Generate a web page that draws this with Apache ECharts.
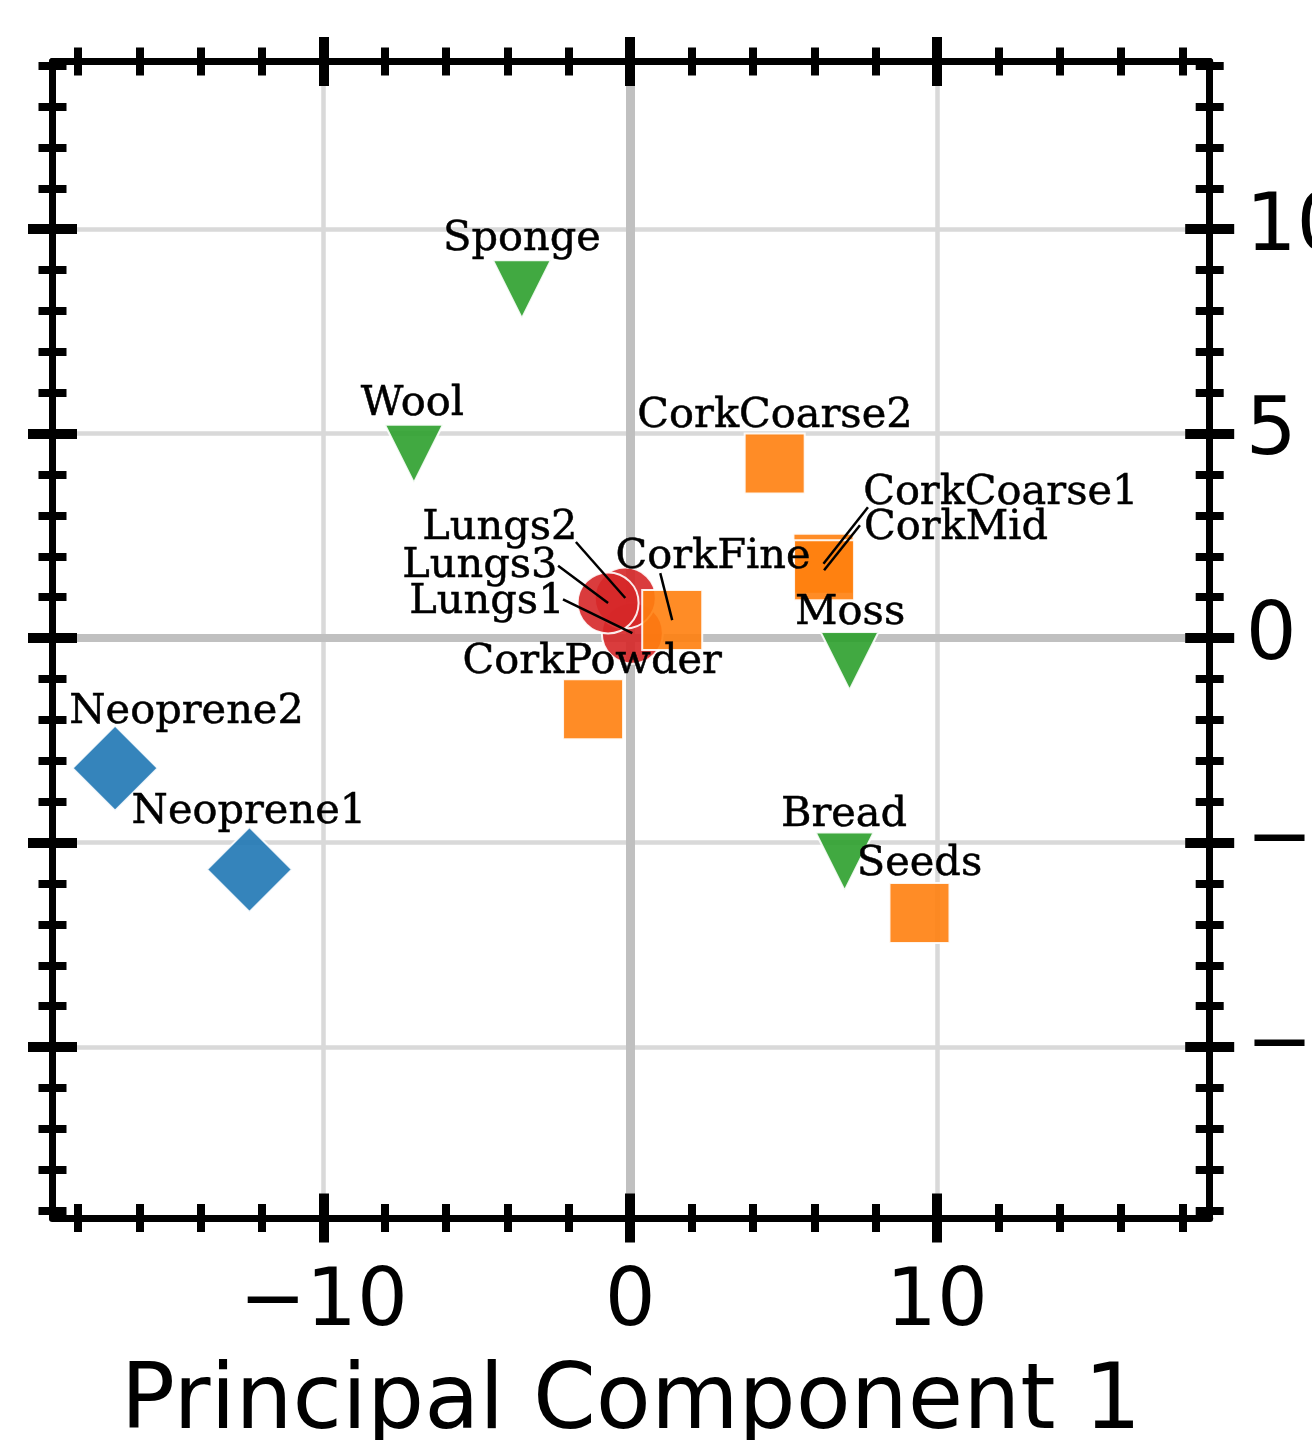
<!DOCTYPE html>
<html>
<head>
<meta charset="utf-8">
<script src="https://cdn.jsdelivr.net/npm/echarts@6/dist/echarts.min.js"></script>
<style>
  html, body { margin: 0; padding: 0; background: #ffffff; }
  #chart { width: 1312px; height: 1440px; }
</style>
</head>
<body>
<div id="chart"></div>
<script>
// PCA scores of sound-absorbing materials (PC1 vs PC2)
const names = ['Neoprene2', 'Neoprene1',
               'Lungs1', 'Lungs2', 'Lungs3',
               'CorkCoarse2', 'CorkCoarse1', 'CorkMid', 'CorkFine', 'CorkPowder', 'Seeds',
               'Sponge', 'Wool', 'Moss', 'Bread'];
const groups = ['synthetic', 'synthetic',
                'lungs', 'lungs', 'lungs',
                'cork', 'cork', 'cork', 'cork', 'cork', 'cork',
                'natural', 'natural', 'natural', 'natural'];
const pc1 = [-16.79, -12.41,
             0.07, -0.16, -0.72,
             4.71, 6.30, 6.32, 1.37, -1.21, 9.43,
             -3.53, -7.05, 7.15, 6.99];
const pc2 = [-3.18, -5.66,
             0.12, 0.98, 0.86,
             4.27, 1.82, 1.66, 0.44, -1.74, -6.72,
             8.53, 4.51, -0.56, -5.46];

// where each name tag sits (text centre), in PC units
const labelX = [-14.46, -12.43,
                -4.67, -4.25, -4.90,
                4.72, 12.08, 10.62, 2.70, -1.24, 9.43,
                -3.53, -7.10, 7.17, 6.97];
const labelY = [-1.70, -4.14,
                1.01, 2.82, 1.87,
                5.54, 3.67, 2.80, 2.10, -0.46, -5.40,
                9.88, 5.83, 0.73, -4.21];

// connector lines: start next to the tag, end on the point
const leaderNames = ['Lungs2', 'Lungs3', 'Lungs1', 'CorkFine', 'CorkCoarse1', 'CorkMid'];
const leaderX = [-1.77, -2.35, -2.19, 0.98, 7.75, 7.49];
const leaderY = [2.35, 1.77, 0.95, 1.59, 3.20, 2.76];

// axes
const X_MIN = -18.83, X_MAX = 18.89;
const Y_MIN = -14.18, Y_MAX = 14.10;
const majorX = [-10, 0, 10];
const minorX = [-18, -16, -14, -12, -8, -6, -4, -2, 2, 4, 6, 8, 12, 14, 16, 18];
const majorY = [-10, -5, 0, 5, 10];
const minorY = [-14, -13, -12, -11, -9, -8, -7, -6, -4, -3, -2, -1,
                1, 2, 3, 4, 6, 7, 8, 9, 11, 12, 13, 14];
const gridX = [-10, 10];
const gridY = [-10, -5, 5, 10];

const groupStyle = {
  synthetic: { color: '#1f77b4', symbol: 'diamond', size: 85, rotate: 0 },
  lungs:     { color: '#d62728', symbol: 'circle', size: 61, rotate: 0 },
  cork:      { color: '#ff7f0e', symbol: 'rect', size: 60, rotate: 0 },
  natural:   { color: '#2ca02c', symbol: 'triangle', size: 58, rotate: 180 }
};
const groupOrder = ['synthetic', 'lungs', 'cork', 'natural'];

const fmt = v => (v < 0 ? '\u2212' + Math.abs(v) : String(v));
const SPINE = 7, MAJ_W = 10, MAJ_L = 49, MIN_W = 8, MIN_L = 28;

function axisBase(dim, position, extra) {
  const base = {
    type: 'value',
    position: position,
    min: dim === 'x' ? X_MIN : Y_MIN,
    max: dim === 'x' ? X_MAX : Y_MAX,
    offset: 0,
    z: 10,
    splitLine: { show: false },
    axisLine: { show: false, onZero: false },
    axisTick: { show: false },
    axisLabel: { show: false }
  };
  return Object.assign(base, extra);
}
function spineAxis(dim, position, extra) {
  return axisBase(dim, position, Object.assign({
    axisLine: { show: true, onZero: false, lineStyle: { color: '#000', width: SPINE } }
  }, extra || {}));
}
function tickAxis(dim, position, values, len, width) {
  return axisBase(dim, position, {
    offset: -len / 2,
    axisTick: { show: true, inside: false, length: len, customValues: values,
                lineStyle: { color: '#000', width: width } }
  });
}

const xAxes = [
  spineAxis('x', 'bottom', {
    name: 'Principal Component 1',
    nameLocation: 'middle',
    nameGap: 142,
    nameTextStyle: { fontFamily: 'DejaVu Sans', fontSize: 90, color: '#000' },
    axisLabel: { show: true, customValues: majorX, formatter: fmt, margin: 46,
                 fontFamily: 'DejaVu Sans', fontSize: 80, color: '#000' }
  }),
  tickAxis('x', 'bottom', majorX, MAJ_L, MAJ_W),
  tickAxis('x', 'bottom', minorX, MIN_L, MIN_W),
  spineAxis('x', 'top'),
  tickAxis('x', 'top', majorX, MAJ_L, MAJ_W),
  tickAxis('x', 'top', minorX, MIN_L, MIN_W)
];
const yAxes = [
  spineAxis('y', 'right', {
    axisLabel: { show: true, customValues: majorY, formatter: fmt, margin: 36,
                 fontFamily: 'DejaVu Sans', fontSize: 80, color: '#000' }
  }),
  tickAxis('y', 'right', majorY, MAJ_L, MAJ_W),
  tickAxis('y', 'right', minorY, MIN_L, MIN_W),
  spineAxis('y', 'left'),
  tickAxis('y', 'left', majorY, MAJ_L, MAJ_W),
  tickAxis('y', 'left', minorY, MIN_L, MIN_W)
];

const series = [];

// reference grid: light lines at major ticks, darker ones through the origin
series.push({
  type: 'scatter', data: [], z: 1, silent: true,
  markLine: {
    silent: true, symbol: 'none', animation: false, z: 1, label: { show: false },
    data: []
      .concat(gridX.map(v => ({ xAxis: v, lineStyle: { color: '#d9d9d9', width: 4.5, type: 'solid' } })))
      .concat(gridY.map(v => ({ yAxis: v, lineStyle: { color: '#d9d9d9', width: 4.5, type: 'solid' } })))
      .concat([{ xAxis: 0, lineStyle: { color: '#c0c0c0', width: 9, type: 'solid' } },
               { yAxis: 0, lineStyle: { color: '#c0c0c0', width: 8, type: 'solid' } }])
  }
});

groupOrder.forEach(g => {
  const st = groupStyle[g];
  const data = [];
  names.forEach((n, i) => { if (groups[i] === g) data.push([pc1[i], pc2[i], n]); });
  series.push({
    type: 'scatter', name: g, z: 2,
    symbol: st.symbol, symbolSize: st.size, symbolRotate: st.rotate,
    itemStyle: { color: st.color, opacity: 0.9, borderColor: '#ffffff', borderWidth: 2 },
    data: data
  });
});

series.push({
  type: 'lines', coordinateSystem: 'cartesian2d', z: 3, silent: true,
  lineStyle: { color: '#000', width: 2.5, opacity: 1 },
  data: leaderNames.map((n, k) => {
    const i = names.indexOf(n);
    return { coords: [[leaderX[k], leaderY[k]], [pc1[i], pc2[i]]] };
  })
});

series.push({
  type: 'scatter', z: 4, silent: true, symbolSize: 1,
  itemStyle: { color: 'rgba(0,0,0,0)' },
  label: {
    show: true, position: 'inside', align: 'center', verticalAlign: 'middle',
    offset: [0, 5],
    formatter: p => p.value[2],
    fontFamily: 'DejaVu Serif', fontSize: 41.5, color: '#000',
    opacity: 1, textBorderColor: '#000', textBorderWidth: 0.5
  },
  data: names.map((n, i) => [labelX[i], labelY[i], n])
});

const chart = echarts.init(document.getElementById('chart'), null, { renderer: 'canvas' });
chart.setOption({
  animation: false,
  backgroundColor: '#ffffff',
  grid: { left: 52.5, top: 61.5, right: 1312 - 1209.7, bottom: 1440 - 1218,
          containLabel: false, outerBoundsMode: 'none' },
  xAxis: xAxes,
  yAxis: yAxes,
  series: series
});
</script>
</body>
</html>
